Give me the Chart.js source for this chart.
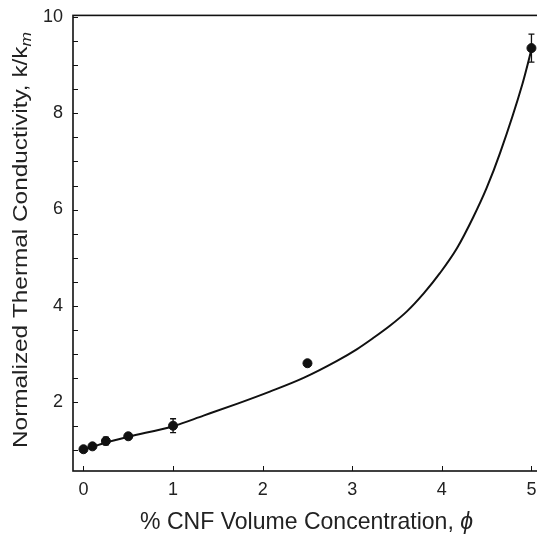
<!DOCTYPE html>
<html>
<head>
<meta charset="utf-8">
<script src="https://cdn.jsdelivr.net/npm/chart.js@4"></script>
<style>
  html, body { margin: 0; padding: 0; background: #fff; overflow: hidden; }
  #wrap { width: 546px; height: 535px; }
</style>
</head>
<body>
<div id="wrap"><canvas id="chart" width="546" height="535"></canvas></div>
<script>
// measured points
const phi = [0, 0.1, 0.25, 0.5, 1, 2.5, 5];
const kRatio = [1.01, 1.07, 1.18, 1.28, 1.50, 2.80, 9.36];
const kErr = [0.02, 0.03, 0.08, 0.04, 0.145, 0.05, 0.29];

// fitted curve
const fitPhi = [0, 0.1, 0.25, 0.5, 1, 1.34, 1.72, 2.08, 2.45, 2.83, 3.05, 3.23, 3.42, 3.61, 3.80, 3.98, 4.17, 4.35, 4.50, 4.65, 4.90, 5];
const fitK = [1.0, 1.06, 1.15, 1.27, 1.49, 1.71, 1.96, 2.21, 2.49, 2.85, 3.09, 3.32, 3.58, 3.88, 4.26, 4.68, 5.20, 5.84, 6.45, 7.18, 8.62, 9.33];

const xTicks = [0, 1, 2, 3, 4, 5];
const yMinor = [1, 1.5, 2, 2.5, 3, 3.5, 4, 4.5, 5, 5.5, 6, 6.5, 7, 7.5, 8, 8.5, 9, 9.5, 10];
const yLabels = [2, 4, 6, 8, 10];

const font = '"Liberation Sans", Arial, sans-serif';

// draw "main" + italic "tail" so that the whole run is `width` long
function titleRun(c, main, tail, size, tailSize, tailDrop, width) {
    c.font = size + 'px ' + font;
    const w1 = c.measureText(main).width;
    c.font = 'italic ' + tailSize + 'px ' + font;
    const w2 = c.measureText(tail).width;
    const k = width / (w1 + w2);
    c.scale(k, 1);
    const s = -(w1 + w2) / 2;
    c.font = size + 'px ' + font;
    c.fillText(main, s, 0);
    c.font = 'italic ' + tailSize + 'px ' + font;
    c.fillText(tail, s + w1, tailDrop);
}

// error bars, inward ticks, frame and axis titles
const extras = {
    id: 'extras',
    afterDatasetsDraw(chart) {
        const c = chart.ctx;
        const xs = chart.scales.x, ys = chart.scales.y;
        c.save();
        c.strokeStyle = '#111';
        c.lineWidth = 1.3;
        phi.forEach((p, i) => {
            const x = xs.getPixelForValue(p);
            const y1 = ys.getPixelForValue(kRatio[i] + kErr[i]);
            const y2 = ys.getPixelForValue(kRatio[i] - kErr[i]);
            c.beginPath();
            c.moveTo(x, y1); c.lineTo(x, y2);
            c.moveTo(x - 3, y1); c.lineTo(x + 3, y1);
            c.moveTo(x - 3, y2); c.lineTo(x + 3, y2);
            c.stroke();
        });
        c.restore();
    },
    afterDraw(chart) {
        const c = chart.ctx;
        const a = chart.chartArea;
        const xs = chart.scales.x, ys = chart.scales.y;
        c.save();
        c.strokeStyle = '#111';
        c.lineWidth = 1.6;
        c.strokeRect(a.left, a.top, a.right - a.left + 8, a.bottom - a.top);
        c.lineWidth = 1;
        c.beginPath();
        xTicks.forEach(v => {
            const x = Math.round(xs.getPixelForValue(v)) + 0.5;
            c.moveTo(x, a.bottom); c.lineTo(x, a.bottom - 5);
        });
        yMinor.forEach(v => {
            const y = Math.round(ys.getPixelForValue(v)) + 0.5;
            c.moveTo(a.left, y); c.lineTo(a.left + 5, y);
        });
        c.stroke();

        c.fillStyle = '#222';
        c.textBaseline = 'alphabetic';
        // x title
        c.save();
        c.translate(306.5, 529);
        titleRun(c, '% CNF Volume Concentration, ', '\u03d5', 24, 24, 0, 333);
        c.restore();

        // y title
        c.save();
        c.translate(27, 240);
        c.rotate(-Math.PI / 2);
        titleRun(c, 'Normalized Thermal Conductivity, k/k', 'm', 21, 15, 4, 416);
        c.restore();
        c.restore();
    }
};

new Chart(document.getElementById('chart'), {
    type: 'scatter',
    data: {
        datasets: [
            {
                type: 'line',
                data: fitPhi.map((p, i) => ({ x: p, y: fitK[i] })),
                borderColor: '#111',
                borderWidth: 2,
                pointRadius: 0,
                cubicInterpolationMode: 'monotone',
                fill: false
            },
            {
                data: phi.map((p, i) => ({ x: p, y: kRatio[i] })),
                backgroundColor: '#111',
                borderColor: '#111',
                pointRadius: 4.5
            }
        ]
    },
    options: {
        responsive: false,
        animation: false,
        layout: { padding: { top: 7, left: 0, right: 0, bottom: 0 } },
        plugins: { legend: { display: false }, tooltip: { enabled: false } },
        scales: {
            x: {
                type: 'linear',
                min: -0.117,
                max: 5.101,
                afterFit: s => { s.height = 64; },
                afterBuildTicks: s => { s.ticks = xTicks.map(v => ({ value: v })); },
                grid: { display: false, drawTicks: false },
                border: { display: false },
                ticks: { color: '#222', font: { family: font, size: 18 }, padding: 8 }
            },
            y: {
                type: 'linear',
                min: 0.557,
                max: 10.041,
                afterFit: s => { s.width = 73; },
                afterBuildTicks: s => { s.ticks = yLabels.map(v => ({ value: v })); },
                grid: { display: false, drawTicks: false },
                border: { display: false },
                ticks: { color: '#222', font: { family: font, size: 18, lineHeight: 0.6 }, padding: 10 }
            }
        }
    },
    plugins: [extras]
});
</script>
</body>
</html>
